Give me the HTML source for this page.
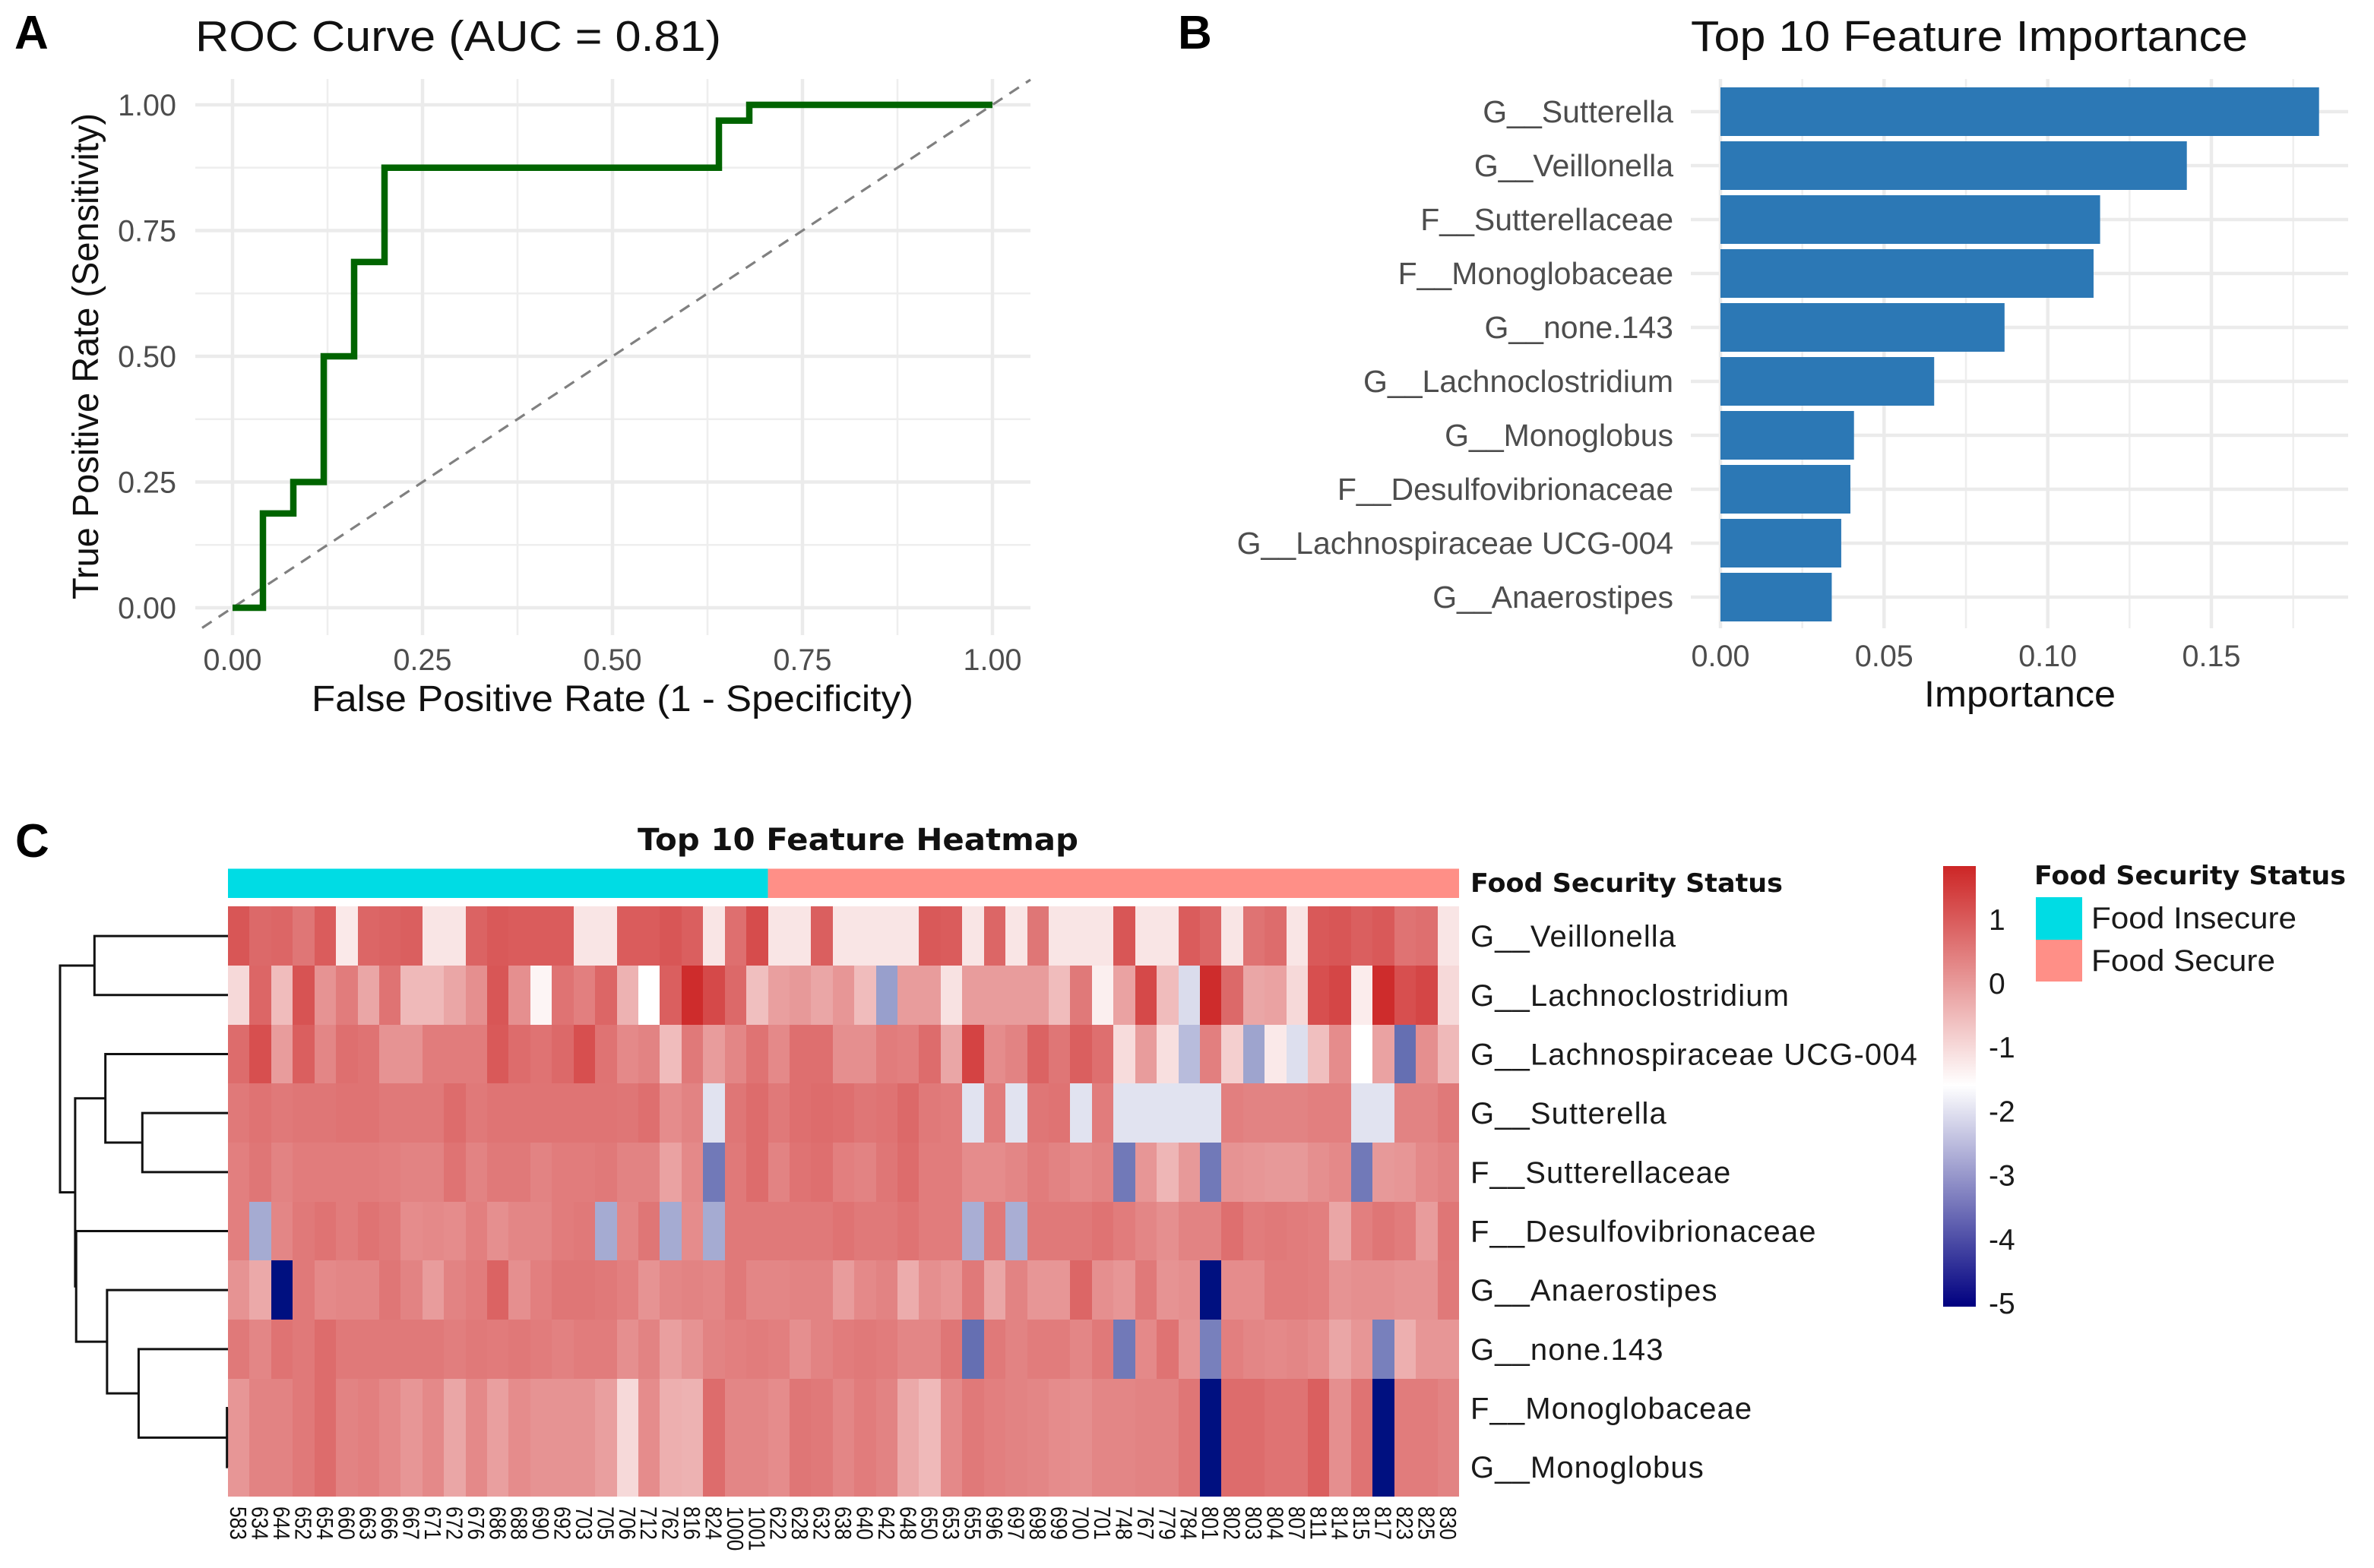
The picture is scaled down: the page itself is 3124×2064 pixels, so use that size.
<!DOCTYPE html>
<html lang="en">
<head>
<meta charset="utf-8">
<title>Feature Importance Figure</title>
<style>
html,body{margin:0;padding:0;background:#fff;}
svg{display:block;font-family:"Liberation Sans",sans-serif;}
.tick{fill:#4d4d4d;font-size:39.5px;}
.tickb{fill:#4d4d4d;font-size:41px;}
.axt{fill:#111;font-size:48px;}
.ttl{fill:#111;font-size:57px;}
.pl{fill:#000;font-size:62px;font-weight:bold;}
.bd{fill:#111;font-family:"DejaVu Sans",sans-serif;font-weight:bold;}
.lab{fill:#1a1a1a;font-size:40px;}
</style>
</head>
<body>
<svg id="fig" xmlns="http://www.w3.org/2000/svg" width="3124" height="2064" viewBox="0 0 3124 2064">
<rect x="0" y="0" width="3124" height="2064" fill="#fff"/>

<text class="pl" x="19" y="64">A</text>
<text class="ttl" x="257" y="67" textLength="692" lengthAdjust="spacingAndGlyphs">ROC Curve (AUC = 0.81)</text>
<g id="rocGrid"></g>
<g id="rocMarks"></g>
<g id="rocTicks"></g>
<text class="axt" x="410" y="936" textLength="792" lengthAdjust="spacingAndGlyphs">False Positive Rate (1 - Specificity)</text>
<text class="axt" transform="translate(129,789) rotate(-90)" x="0" y="0" textLength="640" lengthAdjust="spacingAndGlyphs">True Positive Rate (Sensitivity)</text>

<text class="pl" x="1550" y="64">B</text>
<text class="ttl" x="2225" y="67" textLength="733" lengthAdjust="spacingAndGlyphs">Top 10 Feature Importance</text>
<g id="impGrid"></g>
<g id="impBars"></g>
<g id="impTicks"></g>
<text class="axt" x="2532" y="930" textLength="252" lengthAdjust="spacingAndGlyphs">Importance</text>

<text class="pl" x="20" y="1128">C</text>
<text class="bd" x="839" y="1119" font-size="40" textLength="580" lengthAdjust="spacingAndGlyphs">Top 10 Feature Heatmap</text>
<g id="heatAnno"></g>
<text class="bd" x="1935" y="1174" font-size="34" textLength="411" lengthAdjust="spacingAndGlyphs">Food Security Status</text>
<g id="heatCells" shape-rendering="crispEdges"></g>
<g id="heatRows"></g>
<g id="heatCols"></g>
<g id="dendro"></g>

<defs>
<linearGradient id="cbGrad" x1="0" y1="0" x2="0" y2="1">
<stop id="cbTop" offset="0" stop-color="#cd2626"/>
<stop id="cbMid" offset="0.5" stop-color="#ffffff"/>
<stop id="cbBot" offset="1" stop-color="#000080"/>
</linearGradient>
</defs>
<rect x="2557" y="1140" width="43" height="580" fill="url(#cbGrad)"/>
<g id="cbTicks"></g>
<text class="bd" x="2677" y="1164" font-size="34" textLength="410" lengthAdjust="spacingAndGlyphs">Food Security Status</text>
<rect x="2679" y="1181" width="61" height="56" fill="#00dce4"/>
<rect x="2679" y="1237" width="61" height="55" fill="#ff8f87"/>
<text class="lab" x="2752" y="1222" textLength="270" lengthAdjust="spacingAndGlyphs">Food Insecure</text>
<text class="lab" x="2752" y="1278" textLength="242" lengthAdjust="spacingAndGlyphs">Food Secure</text>
</svg>

<script>
// ---- ROC data ----
const rocFpr = [0, 0.04, 0.04, 0.08, 0.08, 0.12, 0.12, 0.16, 0.16, 0.20, 0.20, 0.64, 0.64, 0.68, 0.68, 1];
const rocTpr = [0, 0, 0.1875, 0.1875, 0.25, 0.25, 0.5, 0.5, 0.6875, 0.6875, 0.875, 0.875, 0.96875, 0.96875, 1, 1];
const rocTicks = [0, 0.25, 0.5, 0.75, 1];
const rocMinorTicks = [0.125, 0.375, 0.625, 0.875];
const rocTickLabels = ["0.00", "0.25", "0.50", "0.75", "1.00"];

// ---- Importance data ----
const importanceFeatures = ["G__Sutterella", "G__Veillonella", "F__Sutterellaceae", "F__Monoglobaceae", "G__none.143", "G__Lachnoclostridium", "G__Monoglobus", "F__Desulfovibrionaceae", "G__Lachnospiraceae UCG-004", "G__Anaerostipes"];
const importanceValues = [0.1829, 0.1425, 0.116, 0.114, 0.0868, 0.0653, 0.0408, 0.0397, 0.0369, 0.034];
const importanceTicks = [0, 0.05, 0.10, 0.15];
const importanceMinorTicks = [0.025, 0.075, 0.125, 0.175];
const importanceTickLabels = ["0.00", "0.05", "0.10", "0.15"];

// ---- Heatmap data ----
const heatmapRowNames = ["G__Veillonella", "G__Lachnoclostridium", "G__Lachnospiraceae UCG-004", "G__Sutterella", "F__Sutterellaceae", "F__Desulfovibrionaceae", "G__Anaerostipes", "G__none.143", "F__Monoglobaceae", "G__Monoglobus"];
const heatmapSamples = ["583","634","644","652","654","660","663","666","667","671","672","676","686","688","690","692","703","705","706","712","762","816","824","1000","1001","622","628","632","638","640","642","648","650","653","655","696","697","698","699","700","701","748","767","779","784","801","802","803","804","807","811","814","815","817","823","825","830"];
const foodInsecureCount = 25;
const rowVeillonella = [1.05,.75,.8,.55,.95,-1.25,.8,.85,.9,-1.2,-1.2,.85,1,.95,.95,.95,-1.2,-1.2,.95,.95,1.05,.9,-1.2,.65,1.2,-1.2,-1.2,.9,-1.2,-1.2,-1.2,-1.2,1,.95,-1.2,.8,-1.2,.55,-1.2,-1.2,-1.2,1.05,-1.2,-1.2,.95,.8,-1.2,.6,.7,-1.2,1,1.05,.9,1,.6,.65,-1.2];
const rowLachnoclostridium = [-1,.8,-.55,1.1,.1,.45,-.2,.6,-.5,-.5,-.2,.15,1.05,.15,-1.45,.6,.4,.8,-.4,-1.6,.9,1.7,1.25,.75,-.6,-.1,0,-.2,.05,-.55,-2.97,-.05,-.05,-1.15,-.05,-.05,-.05,-.05,-.55,.5,-1.35,-.15,1.25,-.55,-2.1,1.7,.75,-.2,-.15,-1,1.15,1.3,-1.3,1.7,1.15,1.3,-1];
const rowUCG004 = [.7,1.15,-.05,.9,.3,.65,.6,.1,.1,.45,.45,.45,1,.7,.6,.75,1.15,.6,.25,.35,-.55,.5,-.05,.3,.6,.25,.65,.65,.15,.15,.45,.4,.7,-.2,1.35,.2,.35,.85,.55,.9,.65,-1.05,-.05,-1.1,-2.55,.4,-.85,-2.9,-1.25,-2.05,-.6,.2,-1.6,-.15,-3.65,.15,-.5];
const rowSutterella = [.5,.6,.5,.55,.55,.6,.6,.5,.5,.5,.7,.5,.58,.58,.58,.58,.58,.58,.55,.65,.2,.35,-2,.55,.7,.5,.65,.7,.65,.55,.6,.75,.5,.45,-2,.45,-2,.55,.6,-2,.45,-2,-2,-2,-2,-2,.4,.35,.35,.35,.4,.4,-2,-2,.35,.35,.5];
const rowSutterellaceae = [.4,.55,.35,.45,.45,.45,.45,.4,.35,.35,.6,.35,.5,.5,.35,.45,.45,.5,.35,.35,-.15,.25,-3.5,.5,.7,.35,.6,.65,.4,.35,.55,.7,.45,.45,.2,.2,.3,.45,.35,.25,.35,-3.5,.05,-.45,0,-3.5,.1,.05,0,0,.15,.25,-3.5,0,.05,.25,.35];
const rowDesulfovibrionaceae = [.4,-2.8,.3,.5,.6,.45,.6,.5,.2,.25,.2,.4,.15,.3,.3,.45,.5,-2.8,.3,.55,-2.8,.2,-2.8,.5,.5,.5,.5,.5,.6,.5,.5,.6,.45,.45,-2.75,.5,-2.75,.5,.5,.5,.6,.45,.3,.15,.35,.35,.65,.45,.5,.45,.4,-.2,.4,.55,.45,-.05,.55];
const rowAnaerostipes = [.1,-.25,-5,.5,.25,.3,.3,.55,.35,-.05,.35,.45,.85,.15,.4,.55,.55,.5,.4,.1,.3,.35,.3,.5,.3,.3,.35,.35,-.05,.25,.35,-.3,.15,.05,.5,-.2,.35,.05,.05,.8,.15,.05,.5,.1,.15,-5,.2,.2,.45,.45,.4,.1,.15,.15,.1,.1,.5];
const rowNone143 = [.5,.3,.6,.5,.7,.5,.5,.5,.5,.5,.42,.5,.47,.52,.45,.38,.45,.45,.15,.35,-.1,.1,.35,.4,.45,.4,.15,.35,.45,.5,.45,.3,.3,.55,-3.65,.5,.35,.45,.45,.3,.5,-3.5,.25,.6,.1,-3.4,.4,.3,.25,.3,.2,-.2,.05,-3.4,-.35,.05,.05];
const rowMonoglobaceae = [.05,.35,.35,.5,.7,.35,.4,.25,.05,.25,-.2,.25,-.1,.2,.1,.1,.1,-.1,-1,.2,-.35,-.4,.7,.3,.3,.2,.55,.5,.3,.45,.35,-.25,-.5,.25,.5,.4,.35,.3,.2,.15,.3,.3,.35,.35,.55,-5,.7,.7,.6,.6,.9,.15,.6,-5,.45,.45,.35];
const rowMonoglobus = [.05,.35,.35,.5,.7,.35,.4,.25,.05,.25,-.2,.25,-.1,.2,.1,.1,.1,-.1,-1,.2,-.35,-.4,.7,.3,.3,.2,.55,.5,.3,.45,.35,-.25,-.5,.25,.5,.4,.35,.3,.2,.15,.3,.3,.35,.35,.55,-5,.7,.7,.6,.6,.9,.15,.6,-5,.45,.45,.35];
const heatmapValues = [rowVeillonella, rowLachnoclostridium, rowUCG004, rowSutterella, rowSutterellaceae, rowDesulfovibrionaceae, rowAnaerostipes, rowNone143, rowMonoglobaceae, rowMonoglobus];
const colorbarTicks = [1, 0, -1, -2, -3, -4, -5];
const colorbarTickLabels = ["1", "0", "-1", "-2", "-3", "-4", "-5"];

// Dendrogram merges: [childA, childB, height]; a child >= 0 is a row index, a negative child -k is merge k-1.
const dendroMerges = [[8, 9, 0.006], [3, 4, 0.51], [7, -1, 0.532], [0, 1, 0.795], [6, -3, 0.72], [2, -2, 0.73], [5, -5, 0.904], [-6, -7, 0.91], [-4, -8, 1]];

const NS = "http://www.w3.org/2000/svg";
function mk(tag, parent) {
  const el = document.createElementNS(NS, tag);
  parent.appendChild(el);
  return el;
}
function setAll(el, attrs) {
  for (const k in attrs) el.setAttribute(k, attrs[k]);
  return el;
}

// ---------- ROC ----------
const rocBox = {l: 257, r: 1356, t: 104, b: 836};
const rocX = v => 306 + v * 1000;
const rocY = v => 800 - v * 662;
(function () {
  const g = document.getElementById("rocGrid");
  rocMinorTicks.forEach(v => {
    const a = setAll(mk("line", g), {x1: rocX(v), x2: rocX(v), y1: rocBox.t, y2: rocBox.b, stroke: "#eeeeee", "stroke-width": 2.5});
    
    
    const b = setAll(mk("line", g), {y1: rocY(v), y2: rocY(v), x1: rocBox.l, x2: rocBox.r, stroke: "#eeeeee", "stroke-width": 2.5});
    
    
  });
  rocTicks.forEach(v => {
    const a = setAll(mk("line", g), {x1: rocX(v), x2: rocX(v), y1: rocBox.t, y2: rocBox.b, stroke: "#ebebeb", "stroke-width": 4.5});
    
    
    const b = setAll(mk("line", g), {y1: rocY(v), y2: rocY(v), x1: rocBox.l, x2: rocBox.r, stroke: "#ebebeb", "stroke-width": 4.5});
    
    
  });
  const m = document.getElementById("rocMarks");
  const dash = setAll(mk("line", m), {x1: rocX(-0.04), y1: rocY(-0.04), x2: rocX(1.05), y2: rocY(1.05), stroke: "#808080", "stroke-width": 3.2, "stroke-dasharray": "15 11"});
  
  
  const pts = rocFpr.map((x, i) => rocX(x) + "," + rocY(rocTpr[i])).join(" ");
  const line = setAll(mk("polyline", m), {points: pts, fill: "none", stroke: "#006400", "stroke-width": 8.5, "stroke-linejoin": "miter"});
  
  
  const t = document.getElementById("rocTicks");
  rocTicks.forEach((v, i) => {
    const a = setAll(mk("text", t), {x: rocX(v), y: 882, "text-anchor": "middle", "class": "tick"});
    a.textContent = rocTickLabels[i];
    
    
    const b = setAll(mk("text", t), {x: 232, y: rocY(v) + 14, "text-anchor": "end", "class": "tick"});
    b.textContent = rocTickLabels[i];
    
    
  });
})();

// ---------- Importance ----------
const impBox = {l: 2225, r: 3090, t: 104, b: 827};
const impX = v => 2264 + v * 4306.7;
const impY = i => 147 + i * 71;
(function () {
  const g = document.getElementById("impGrid");
  importanceMinorTicks.forEach(v => {
    const a = setAll(mk("line", g), {x1: impX(v), x2: impX(v), y1: impBox.t, y2: impBox.b, stroke: "#eeeeee", "stroke-width": 2.5});
    
    
  });
  importanceTicks.forEach(v => {
    const a = setAll(mk("line", g), {x1: impX(v), x2: impX(v), y1: impBox.t, y2: impBox.b, stroke: "#ebebeb", "stroke-width": 4.5});
    
    
  });
  importanceFeatures.forEach((f, i) => {
    const a = setAll(mk("line", g), {y1: impY(i), y2: impY(i), x1: impBox.l, x2: impBox.r, stroke: "#ebebeb", "stroke-width": 4.5});
    
    
  });
  const bars = document.getElementById("impBars");
  importanceValues.forEach((v, i) => {
    const r = setAll(mk("rect", bars), {x: impX(0), y: impY(i) - 32, width: impX(v) - impX(0), height: 64, fill: "#2c78b5"});
    
    
  });
  const t = document.getElementById("impTicks");
  importanceFeatures.forEach((f, i) => {
    const a = setAll(mk("text", t), {x: 2202, y: impY(i) + 14, "text-anchor": "end", "class": "tickb"});
    a.textContent = f;
    
    
  });
  importanceTicks.forEach((v, i) => {
    const a = setAll(mk("text", t), {x: impX(v), y: 877, "text-anchor": "middle", "class": "tick"});
    a.textContent = importanceTickLabels[i];
    
    
  });
})();

// ---------- Heatmap ----------
const hm = {l: 300, r: 1920, t: 1193.3, b: 1970};
const colW = (hm.r - hm.l) / heatmapSamples.length;
const rowH = (hm.b - hm.t) / heatmapRowNames.length;
const VMIN = -5, VMID = -1.6, VMAX = 1.8;
function heatColor(v) {
  const mix = (a, b, t) => Math.round(a + (b - a) * t);
  if (v >= VMID) {
    const t = Math.min(1, (v - VMID) / (VMAX - VMID));
    return "rgb(" + mix(255, 205, t) + "," + mix(255, 38, t) + "," + mix(255, 38, t) + ")";
  }
  const t = Math.min(1, (VMID - v) / (VMID - VMIN));
  return "rgb(" + mix(255, 0, t) + "," + mix(255, 16, t) + "," + mix(255, 128, t) + ")";
}
(function () {
  const anno = document.getElementById("heatAnno");
  const a1 = setAll(mk("rect", anno), {x: hm.l, y: 1143.5, width: colW * foodInsecureCount, height: 38.5, fill: "#00dce4"});
  
  
  const a2 = setAll(mk("rect", anno), {x: hm.l + colW * foodInsecureCount, y: 1143.5, width: colW * (heatmapSamples.length - foodInsecureCount), height: 38.5, fill: "#ff8f87"});
  
  

  const cells = document.getElementById("heatCells");
  heatmapValues.forEach((row, r) => {
    row.forEach((v, c) => {
      const x0 = Math.round(hm.l + c * colW), x1 = Math.round(hm.l + (c + 1) * colW);
      const y0 = Math.round(hm.t + r * rowH), y1 = Math.round(hm.t + (r + 1) * rowH);
      const cell = setAll(mk("rect", cells), {x: x0, y: y0, width: x1 - x0, height: y1 - y0, fill: heatColor(v)});
      
      
    });
  });

  const rl = document.getElementById("heatRows");
  heatmapRowNames.forEach((n, r) => {
    const t = setAll(mk("text", rl), {x: 1935, y: hm.t + (r + .5) * rowH + 14, "class": "lab", "letter-spacing": "1.1"});
    t.textContent = n;
    
    
  });
  const cl = document.getElementById("heatCols");
  heatmapSamples.forEach((s, c) => {
    const cx = hm.l + (c + .5) * colW;
    const t = setAll(mk("text", cl), {transform: "translate(" + (cx - 11) + ",1983) rotate(90)", x: 0, y: 0, "font-size": 31, fill: "#111", textLength: s.length * 14.6, lengthAdjust: "spacingAndGlyphs"});
    t.textContent = s;
    
    
  });

  // Dendrogram drawn from merge table
  const den = document.getElementById("dendro");
  const dX = h => 300 - h * 221;
  const nodes = [];
  const nodeOf = ch => ch >= 0 ? {y: hm.t + (ch + .5) * rowH, h: 0} : nodes[-ch - 1];
  dendroMerges.forEach(m => {
    const a = nodeOf(m[0]), b = nodeOf(m[1]), h = m[2];
    const path = setAll(mk("path", den), {
      d: "M" + dX(a.h) + " " + a.y + "H" + dX(h) + "V" + b.y + "H" + dX(b.h),
      fill: "none", stroke: "#111", "stroke-width": 3
    });
    
    
    nodes.push({y: (a.y + b.y) / 2, h: h});
  });

  // Colorbar
  const cbY = v => 1294 - v * 84.2;
  document.getElementById("cbMid").setAttribute("offset", (cbY(VMID) - 1140) / 580);
  const cb = document.getElementById("cbTicks");
  colorbarTicks.forEach((v, i) => {
    const t = setAll(mk("text", cb), {x: 2617, y: cbY(v) + 14, "font-size": 39, fill: "#1a1a1a"});
    t.textContent = colorbarTickLabels[i];
    
    
  });
})();
</script>
</body>
</html>
